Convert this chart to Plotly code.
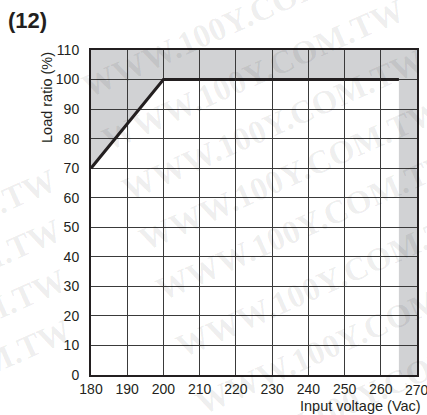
import plotly.graph_objects as go

# Data
voltage = [180, 200, 265]          # Input voltage (Vac)
load_ratio = [70, 100, 100]        # Load ratio (%)
x_ticks = [180, 190, 200, 210, 220, 230, 240, 250, 260, 270]
y_ticks = [0, 10, 20, 30, 40, 50, 60, 70, 80, 90, 100, 110]
x_range = [180, 270]
y_range = [0, 110]

W, H = 427, 415
ML, MR, MT, MB = 91, 10, 50, 40
PW, PH = W - ML - MR, H - MT - MB

# Grey (non-operating) region built from the curve and the axis limits
pts = list(zip(voltage, load_ratio))
pts += [(voltage[-1], y_range[0]), (x_range[1], y_range[0]),
        (x_range[1], y_range[1]), (x_range[0], y_range[1])]
path = "M " + " L ".join(f"{x},{y}" for x, y in pts) + " Z"

fig = go.Figure()
fig.add_trace(go.Scatter(x=voltage, y=load_ratio, mode="lines",
                         line=dict(color="#231f20", width=3),
                         hoverinfo="skip", showlegend=False))

fig.add_shape(type="path", path=path, xref="x", yref="y",
              fillcolor="#d1d2d4", line=dict(width=0), layer="below")

font = "Liberation Sans, Arial, sans-serif"
tickfont = dict(family=font, size=14, color="#231f20")

# the last x tick label overflows the right edge, so draw it as an annotation
inner_x = x_ticks[:-1]

fig.update_xaxes(range=x_range, tickvals=x_ticks,
                 ticktext=[str(v) for v in inner_x] + [""],
                 showgrid=True, gridcolor="#3a3a3a", gridwidth=1.4,
                 showline=True, linecolor="#231f20", linewidth=2, mirror=True,
                 zeroline=False, ticks="", ticklen=0, automargin=False,
                 tickfont=tickfont, ticklabelstandoff=0)
fig.update_yaxes(range=y_range, tickvals=y_ticks, ticktext=[str(v) for v in y_ticks],
                 showgrid=True, gridcolor="#3a3a3a", gridwidth=1.4,
                 showline=True, linecolor="#231f20", linewidth=2, mirror=True,
                 zeroline=False, ticks="", ticklen=0, ticklabelstandoff=7, automargin=False,
                 tickfont=tickfont)

# faint site watermark (page pixel centres)
wm_centres = [(233, 22), (253, 75), (273, 125), (290, 175), (307, 225),
              (327, 282), (347, 339), (367, 395),
              (-95, 245), (-90, 295), (-85, 345), (-80, 395)]
wm = [dict(text="<b>WWW.100Y.COM.TW</b>", xref="paper", yref="paper",
           x=(px - ML) / PW, y=(H - MB - py) / PH, xanchor="center", yanchor="middle",
           textangle=-24, showarrow=False,
           font=dict(family="Liberation Serif, Times New Roman, serif", size=33,
                     color="rgba(0,0,0,0.07)"))
      for px, py in wm_centres]

fig.update_layout(
    width=W, height=H,
    margin=dict(l=ML, r=MR, t=MT, b=MB),
    paper_bgcolor="white", plot_bgcolor="white",
    font=dict(family=font, color="#231f20"),
    annotations=wm + [
        dict(text=str(x_ticks[-1]), xref="x", yref="paper", x=x_ticks[-1], y=0,
             xanchor="center", yanchor="top", yshift=-5, showarrow=False,
             font=tickfont),
        dict(text="<b>(12)</b>", xref="paper", yref="paper",
             x=(6 - ML) / PW, y=(H - MB - 20) / PH,
             xanchor="left", yanchor="middle", showarrow=False,
             font=dict(family=font, size=22, color="#231f20")),
        dict(text="Load ratio (%)", xref="paper", yref="paper",
             x=(46.5 - ML) / PW, y=1.0,
             xanchor="center", yanchor="top", textangle=-90, showarrow=False,
             font=dict(family=font, size=14.5, color="#231f20")),
        dict(text="Input voltage (Vac)", xref="paper", yref="paper",
             x=(423 - ML) / PW, y=0,
             xanchor="right", yanchor="top", yshift=-21, showarrow=False,
             font=dict(family=font, size=14.5, color="#231f20")),
    ],
)

fig.write_html("out.html", config={"displayModeBar": False},
               post_script="document.body.style.margin='0';")
